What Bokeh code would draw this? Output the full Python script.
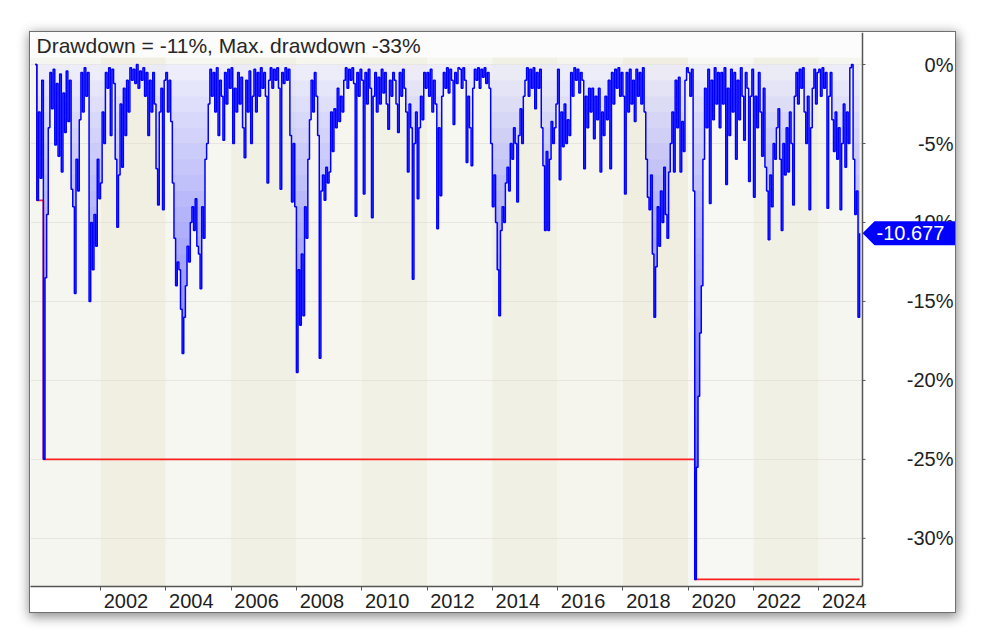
import numpy as np
from bokeh.plotting import figure
from bokeh.models import Range1d, FixedTicker, Label, Span
from bokeh.core.properties import value
from bokeh.embed import file_html
from bokeh.resources import INLINE

# ---- drawdown values (%), 20 samples per year ----
dd_2000 = [0.0, -8.6, -3.0, -7.2, -1.0, -25.0, -13.5, -9.5, -4.0, -0.5, -2.8, -0.3, -5.1, -1.2, -5.8, -0.6, -6.8, -1.8, -4.3, -0.4]
dd_2001 = [-3.6, -1.0, -7.9, -9.0, -14.5, -6.0, -8.0, -3.5, -0.5, -3.0, -0.2, -2.0, -0.5, -15.0, -10.0, -13.0, -9.5, -11.5, -6.0, -8.5]
dd_2002 = [-7.5, -3.0, -5.0, -0.5, -1.5, -0.2, -4.5, -0.3, -1.2, -6.0, -10.3, -7.0, -2.5, -6.5, -1.5, -4.5, -1.0, -3.0, -0.2, -1.0]
dd_2003 = [-0.3, -1.2, 0.0, -1.5, -0.4, -1.0, -0.2, -2.0, -0.5, -4.5, -1.0, -3.0, -0.5, -2.5, -6.6, -8.9, -3.0, -1.5, -9.2, -1.0]
dd_2004 = [-0.5, -3.0, -1.0, -3.6, -7.5, -11.0, -14.0, -12.5, -13.0, -15.5, -18.3, -16.0, -14.0, -11.5, -12.5, -10.0, -9.0, -10.5, -8.5, -11.5]
dd_2005 = [-12.0, -14.2, -9.0, -11.0, -6.0, -5.0, -2.5, -0.3, -2.0, -0.5, -3.0, -0.2, -4.5, -1.0, -2.0, -4.8, -0.5, -2.5, -0.3, -1.5]
dd_2006 = [-0.2, -5.0, -1.5, -3.0, -0.5, -2.5, -0.8, -4.0, -5.9, -1.0, -3.0, -0.4, -5.0, -2.0, -0.3, -3.0, -0.5, -2.0, -0.2, -1.5]
dd_2007 = [-0.5, -2.0, -7.5, -1.0, -0.2, -1.5, -0.3, -1.0, -0.2, -1.5, -7.9, -0.5, -1.2, -0.2, -1.0, -0.3, -4.5, -8.7, -5.0, -9.0]
dd_2008 = [-19.5, -13.0, -16.5, -12.0, -15.9, -9.0, -11.0, -6.0, -3.5, -1.0, -3.0, -0.5, -2.0, -4.5, -18.6, -8.0, -7.0, -8.6, -6.5, -7.5]
dd_2009 = [-6.8, -3.0, -5.5, -2.8, -4.0, -1.5, -3.6, -2.0, -3.0, -1.0, -0.2, -1.5, -0.3, -1.0, -0.2, -1.2, -9.6, -0.5, -2.0, -0.3]
dd_2010 = [-1.0, -8.2, -0.5, -2.5, -0.3, -1.5, -9.7, -2.0, -0.5, -3.0, -0.8, -2.5, -0.3, -1.8, -0.5, -2.5, -4.1, -1.0, -2.0, -0.5]
dd_2011 = [-1.0, -2.5, -4.3, -0.5, -2.0, -0.3, -1.5, -3.0, -6.8, -2.5, -4.0, -13.6, -5.0, -3.0, -8.5, -4.0, -2.0, -3.5, -0.5, -1.5]
dd_2012 = [-0.5, -2.0, -0.3, -3.0, -1.0, -2.5, -10.4, -4.0, -8.3, -2.0, -0.5, -1.5, -0.2, -1.8, -0.3, -1.0, -3.8, -0.5, -1.2, -0.2]
dd_2013 = [-0.3, -1.5, -0.2, -1.0, -6.2, -2.0, -4.0, -6.4, -1.5, -0.3, -1.0, -0.2, -1.5, -0.3, -0.8, -0.2, -1.2, -0.5, -1.5, -5.0]
dd_2014 = [-9.0, -7.0, -10.0, -13.0, -15.9, -10.5, -9.0, -10.0, -7.5, -6.5, -8.0, -5.0, -6.0, -4.0, -5.0, -8.7, -4.5, -2.8, -5.0, -2.0]
dd_2015 = [-1.0, -0.2, -2.0, -0.3, -1.5, -0.2, -2.8, -0.5, -1.5, -0.3, -4.0, -6.4, -10.5, -5.5, -10.5, -6.0, -3.6, -5.0, -4.0, -2.5]
dd_2016 = [-0.3, -7.3, -3.0, -5.2, -2.5, -5.0, -3.5, -4.5, -0.5, -2.0, -0.2, -1.0, -0.3, -1.8, -0.5, -1.0, -6.6, -2.0, -4.0, -1.5]
dd_2017 = [-3.0, -1.5, -4.7, -2.0, -3.5, -1.5, -6.8, -3.0, -4.5, -2.0, -3.5, -1.0, -6.6, -0.5, -2.5, -0.3, -1.5, -0.2, -2.0, -0.5]
dd_2018 = [-2.0, -8.2, -0.5, -3.0, -0.3, -2.5, -1.0, -3.6, -0.3, -2.0, -0.5, -2.5, -0.2, -3.0, -6.0, -8.4, -9.2, -7.0, -12.0, -16.0]
dd_2019 = [-12.8, -9.0, -11.5, -8.0, -10.0, -6.5, -9.5, -11.0, -6.8, -5.0, -3.0, -6.8, -1.0, -4.0, -0.8, -6.8, -3.6, -5.5, -1.0, -0.2]
dd_2020 = [-0.5, -2.0, -0.3, -8.0, -32.6, -25.5, -21.0, -17.0, -14.0, -6.0, -1.5, -4.0, -0.3, -8.8, -1.0, -3.5, -0.2, -2.5, -0.5, -4.0]
dd_2021 = [-0.5, -2.5, -0.2, -7.6, -1.5, -4.5, -0.3, -3.0, -0.5, -6.0, -1.0, -3.5, -0.2, -2.0, -4.8, -0.5, -1.5, -7.4, -2.0, -0.3]
dd_2022 = [-8.4, -2.0, -4.0, -0.5, -3.0, -5.8, -1.5, -6.5, -8.0, -11.1, -7.0, -9.0, -5.0, -6.0, -4.0, -2.8, -6.0, -10.5, -5.0, -7.0]
dd_2023 = [-4.0, -6.8, -3.0, -5.0, -8.9, -2.0, -0.5, -2.5, -0.3, -1.5, -0.2, -3.0, -5.0, -2.0, -9.2, -4.0, -1.5, -0.3, -2.5, -0.5]
dd_2024 = [-0.3, -2.0, -0.2, -1.5, -0.5, -9.1, -2.0, -0.5, -3.5, -5.5, -3.0, -6.0, -4.0, -9.2, -5.0, -2.5, -6.5, -3.0, -5.0, -0.2]
dd_2025 = [0.0, -6.0, -9.5, -8.0, -16.0, -10.677]

years = list(range(2000, 2026))
yearly_dd = [dd_2000, dd_2001, dd_2002, dd_2003, dd_2004, dd_2005, dd_2006, dd_2007,
             dd_2008, dd_2009, dd_2010, dd_2011, dd_2012, dd_2013, dd_2014, dd_2015,
             dd_2016, dd_2017, dd_2018, dd_2019, dd_2020, dd_2021, dd_2022, dd_2023,
             dd_2024, dd_2025]
SAMPLES_PER_YEAR = 20

tick_years = [2002, 2004, 2006, 2008, 2010, 2012, 2014, 2016, 2018, 2020, 2022, 2024]
tick_labels = ["2002", "2004", "2006", "2008", "2010", "2012", "2014", "2016", "2018", "2020", "2022", "2024"]
y_ticks = [0, -5, -10, -15, -20, -25, -30]
y_tick_labels = ["0%", "-5%", "-10%", "-15%", "-20%", "-25%", "-30%"]

title_text = "Drawdown = -11%, Max. drawdown -33%"

# background bands (2-year)
band_left = [1999, 2002, 2004, 2006, 2008, 2010, 2012, 2014, 2016, 2018, 2020, 2022, 2024]
band_right = [2002, 2004, 2006, 2008, 2010, 2012, 2014, 2016, 2018, 2020, 2022, 2024, 2025.338]
band_colors = ["#f6f6f1", "#f0efe2", "#f7f7f2", "#f1f0e4", "#f6f6ef", "#f2f1e6", "#f7f7f2",
               "#f1f0e4", "#f5f5ed", "#efeee1", "#f7f7f3", "#f1f0e4", "#f6f6f0"]

# ---- build series ----
x_list, dd_list = [], []
for yr, vals in zip(years, yearly_dd):
    for i, v in enumerate(vals):
        x_list.append(yr + i / SAMPLES_PER_YEAR)
        dd_list.append(v)
x = np.array(x_list)
dd = np.array(dd_list)
max_dd = np.minimum.accumulate(dd)

FONT = "Liberation Sans"
PX_PER_YEAR = 32.65          # horizontal scale of the plot area
PX_PER_PCT = 15.8            # vertical scale
X0, X1 = 1999.856, 2025.338  # plot area (data) left / right edge
XR = X1 + 93 / PX_PER_YEAR   # right edge of the value-scale strip
Y0, Y1 = -33.05, 2.03

p = figure(width=925, height=580, output_backend="svg", toolbar_location=None,
           x_range=Range1d(X0, XR), y_range=Range1d(Y0, Y1),
           x_axis_location="below", y_axis_location=None,
           min_border_left=0, min_border_top=0, min_border_right=0, min_border_bottom=26,
           background_fill_color="#fcfcfc", border_fill_color="white",
           outline_line_color=None)
p.margin = (32, 0, 0, 30)
p.styles = {"box-shadow": "1px 3px 11px 2px rgba(0,0,0,0.45)", "outline": "1px solid #707070"}

# bands
bands = p.quad(left=band_left, right=band_right, bottom=-40, top=0.45,
               fill_color=band_colors, line_color=None)
bands.level = "image"

# gradient fill between the drawdown curve and zero
p.varea_step(x=x, y1=dd, y2=np.zeros_like(dd), step_mode="after",
             fill_color="white", fill_alpha=0.65)
p.varea_step(x=x, y1=dd, y2=np.zeros_like(dd), step_mode="after",
             fill_color="#0000ff", fill_alpha=0.06)
for k in range(1, 34):
    p.varea_step(x=x, y1=dd, y2=np.maximum(dd, -k), step_mode="after",
                 fill_color="#0000ff", fill_alpha=0.026)

# max drawdown and drawdown lines
p.step(x, max_dd, mode="after", line_color="#ff2020", line_width=1.6)
p.step(x, dd, mode="after", line_color="#0000ff", line_width=1.5)

# value scale strip on the right (white panel, divider, ticks, labels)
p.quad(left=[X1], right=[XR + 1], bottom=[Y0 - 5], top=[Y1 + 5],
       fill_color="white", line_color=None)
p.add_layout(Span(location=X1, dimension="height", line_color="#555555", line_width=1.5))
p.segment(x0=[X1] * len(y_ticks), x1=[X1 + 3 / PX_PER_YEAR] * len(y_ticks),
          y0=y_ticks, y1=y_ticks, line_color="#555555", line_width=1)
p.text(x=[XR - 2 / PX_PER_YEAR] * len(y_ticks), y=y_ticks, text=y_tick_labels,
       text_font=value(FONT), text_font_size="20px", text_color="#1e1e1e",
       text_align="right", text_baseline="middle")

# last value tag (pointer + box)
last = dd[-1]
tip_h = 12 / PX_PER_PCT
p.patch(x=[X1, X1 + 12 / PX_PER_YEAR, XR + 1, XR + 1, X1 + 12 / PX_PER_YEAR],
        y=[last, last + tip_h, last + tip_h, last - tip_h, last - tip_h],
        fill_color="#0000ff", line_color=None)
p.text(x=[X1 + 14 / PX_PER_YEAR], y=[last], text=[f"{last:.3f}"],
       text_font=value(FONT), text_font_size="20px", text_color="white",
       text_align="left", text_baseline="middle")

# title inside the top strip
p.add_layout(Label(x=2000.04, y=1.22, text=title_text, text_font=FONT,
                   text_font_size="21px", text_color="#262626", text_baseline="middle"))

# x axis: tick marks at years (minor), labels just to the right of them
label_pos = [yr + 0.78 for yr in tick_years]
p.xaxis.bounds = (X0, X1)
p.xaxis.ticker = FixedTicker(ticks=label_pos, minor_ticks=tick_years)
p.xaxis.major_label_overrides = dict(zip(label_pos, tick_labels))
p.xaxis.major_tick_line_color = None
p.xaxis.major_tick_out = 0
p.xaxis.major_tick_in = 0
p.xaxis.minor_tick_out = 4
p.xaxis.minor_tick_in = 0
p.xaxis.minor_tick_line_color = "#555555"
p.xaxis.axis_line_color = "#555555"
p.xaxis.axis_line_width = 1.5
p.xaxis.major_label_standoff = 3
p.xaxis.major_label_text_font = FONT
p.xaxis.major_label_text_font_size = "20px"
p.xaxis.major_label_text_color = "#1e1e1e"

p.xgrid.visible = False
p.ygrid.ticker = FixedTicker(ticks=y_ticks, minor_ticks=[])
p.ygrid.grid_line_color = "#dcdcd2"
p.ygrid.grid_line_alpha = 0.6

open("out.html", "w").write(file_html(p, INLINE))
